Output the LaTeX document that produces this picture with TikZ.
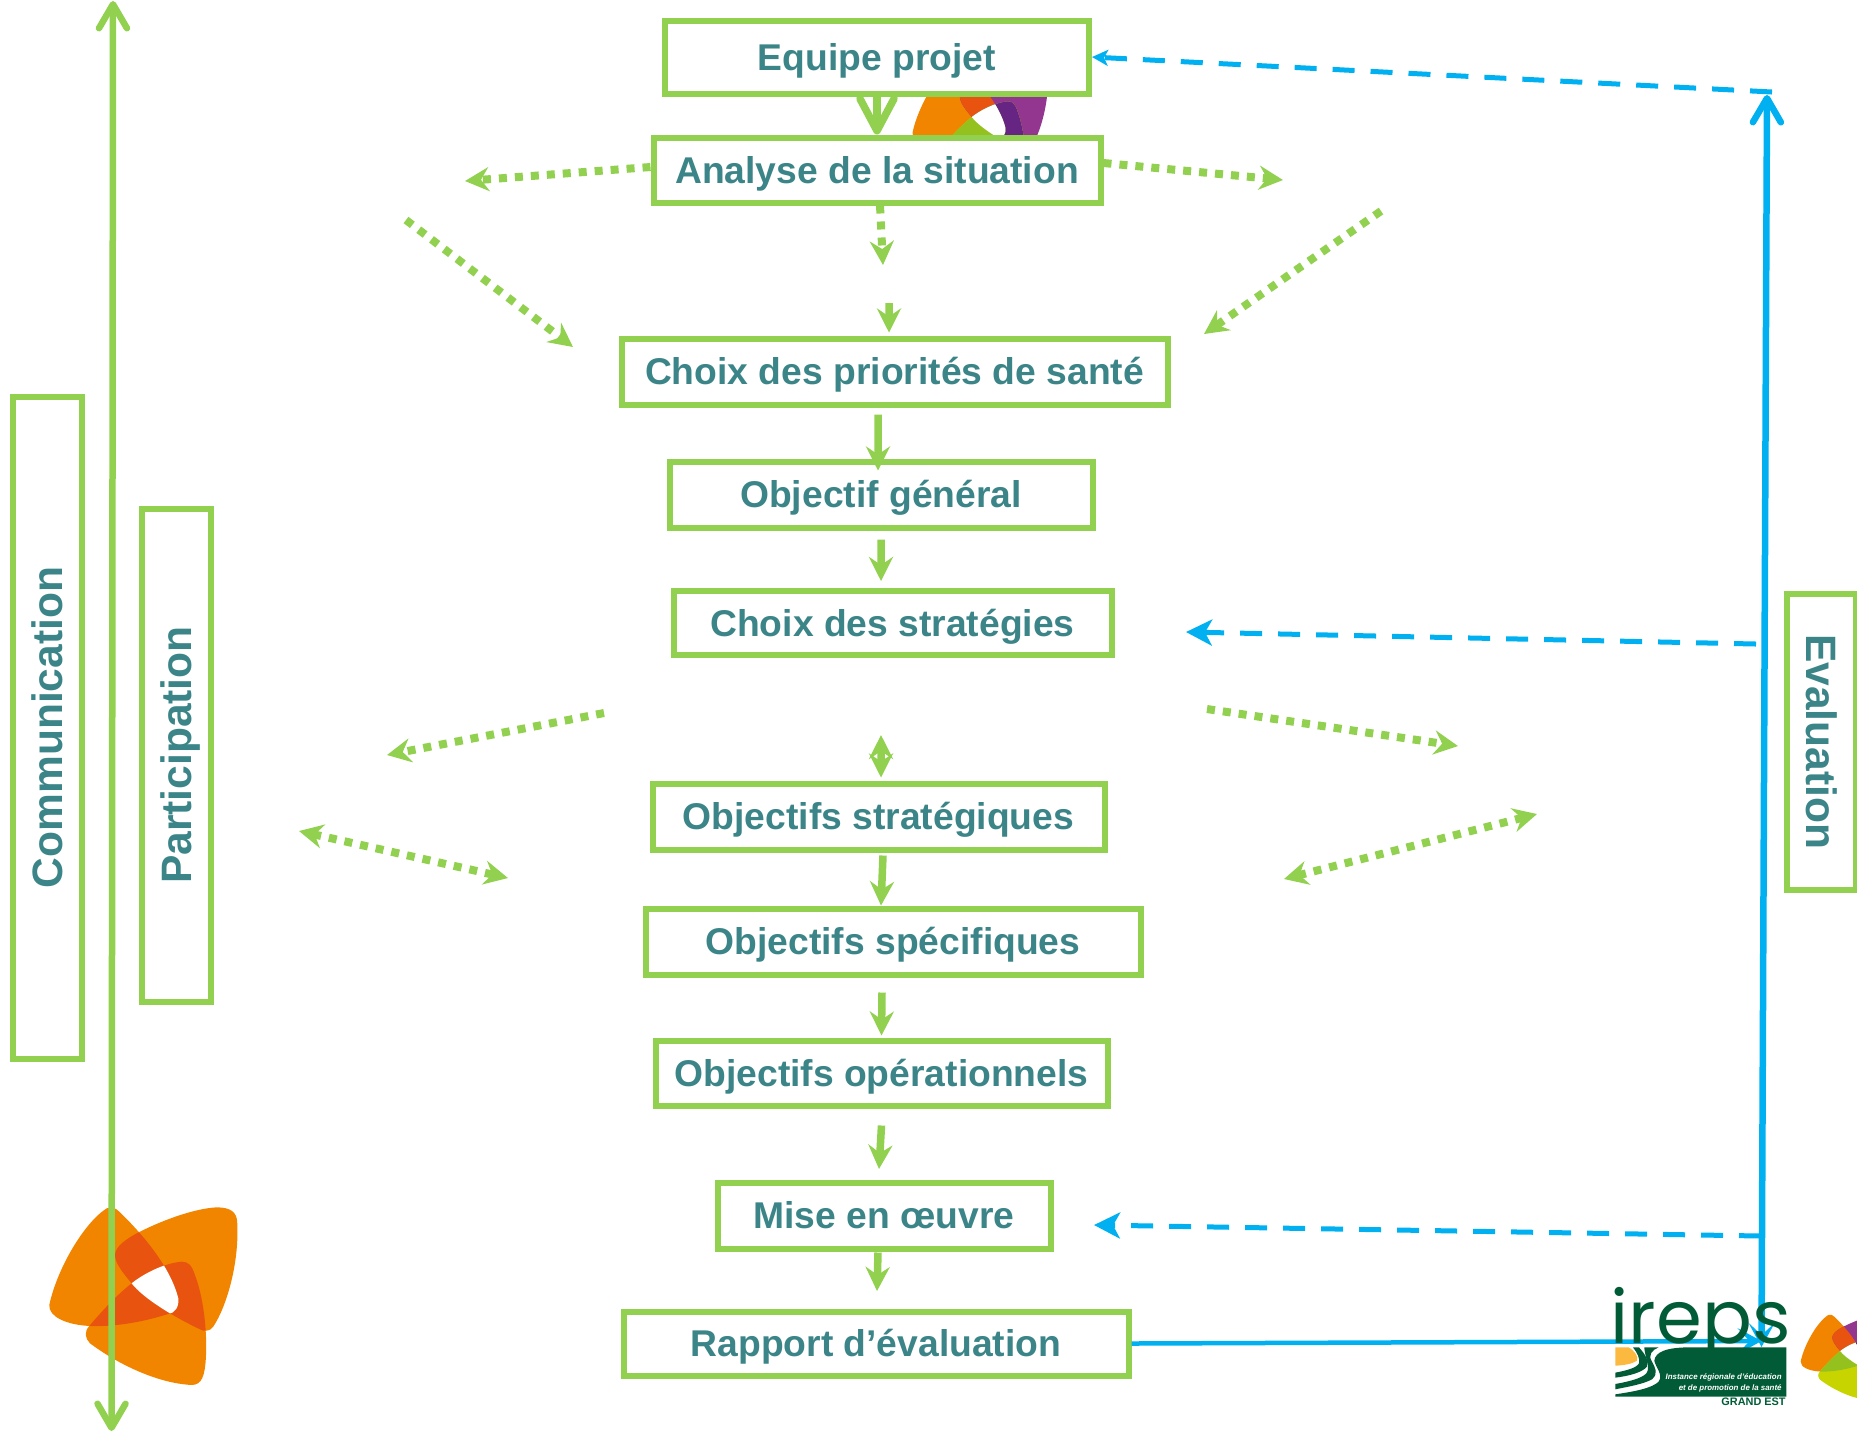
\documentclass[tikz,border=0pt]{standalone}
\usepackage{fontspec}
\setmainfont{Liberation Sans}
\newfontfamily\irepsfont{Poppins}
\usetikzlibrary{arrows.meta}
\definecolor{leaf}{HTML}{92D050}
\definecolor{teal2}{HTML}{3B8588}
\definecolor{sky}{HTML}{00B0F0}
\definecolor{ornge}{HTML}{F28500}
\definecolor{rust}{HTML}{E8540F}
\definecolor{plum}{HTML}{93368F}
\definecolor{plumdk}{HTML}{662483}
\definecolor{moss}{HTML}{95C11F}
\definecolor{lime2}{HTML}{C8D400}
\definecolor{irepsgreen}{HTML}{005B36}
\definecolor{irepsyellow}{HTML}{FBB93F}
\newcommand{\petalA}{(320,175) .. controls (335,170) and (345,172) .. (358,185) .. controls (420,245) and (510,345) .. (535,445) .. controls (538,470) and (525,490) .. (505,492) .. controls (400,525) and (320,530) .. (270,528) .. controls (200,525) and (145,500) .. (148,465) .. controls (170,360) and (250,220) .. (320,175) -- cycle}
\newcommand{\petalB}{(650,172) .. controls (690,172) and (712,185) .. (712,220) .. controls (718,340) and (680,470) .. (640,530) .. controls (630,545) and (610,545) .. (600,538) .. controls (520,500) and (430,445) .. (395,400) .. controls (370,370) and (345,340) .. (345,315) .. controls (345,290) and (380,265) .. (420,245) .. controls (500,205) and (590,175) .. (650,172) -- cycle}
\newcommand{\petalC}{(575,705) .. controls (470,700) and (350,640) .. (270,580) .. controls (255,565) and (252,545) .. (268,528) .. controls (300,490) and (350,435) .. (395,400) .. controls (430,372) and (490,340) .. (545,335) .. controls (565,335) and (575,345) .. (585,375) .. controls (610,440) and (622,540) .. (618,620) .. controls (615,680) and (605,705) .. (575,705) -- cycle}
% #1 place and size, #2-#4 petals, #5 A+B, #6 B+C, #7 A+C
\newcommand{\petals}[7]{
\begin{scope}[#1]
\fill[#2] \petalA;
\fill[#3] \petalB;
\fill[#4] \petalC;
\begin{scope} \clip \petalA; \fill[#5] \petalB; \end{scope}
\begin{scope} \clip \petalB; \fill[#6] \petalC; \end{scope}
\begin{scope} \clip \petalA; \fill[#7] \petalC; \end{scope}
\begin{scope} \clip \petalA; \clip \petalB; \fill[white] \petalC; \end{scope}
\end{scope}
}

\begin{document}
\begin{tikzpicture}[x=0.1mm, y=-0.1mm, font=\fontsize{10.6}{12}\selectfont\bfseries]
\tikzset{etape/.style={draw=leaf, line width=.6mm, fill=white, text=teal2, inner sep=0pt, align=center, text depth=0pt, text height=7.6pt}}
\tikzset{axe/.style={etape, rotate=90, minimum height=6.9mm, font=\fontsize{12.1}{14}\selectfont\bfseries, text height=8.6pt}}
\tikzset{pointe/.tip={Stealth[length=2.4mm,width=2.4mm,inset=.8mm]}}
\tikzset{barbe/.tip={Straight Barb[length=2.4mm,width=2.8mm,round]}}
\tikzset{fine/.tip={Stealth[length=2.4mm,width=2.6mm,inset=1.2mm]}}
\tikzset{fleche/.style={draw=leaf, line width=.75mm, -pointe}}
\tikzset{longue/.style={line width=.65mm}}
\tikzset{pointille/.style={draw=leaf, line width=.8mm, dash pattern=on .8mm off .8mm, -pointe}}
\tikzset{tirets/.style={draw=sky, line width=.5mm, dash pattern=on 2.2mm off 1.6mm, -{Stealth[length=2.6mm,width=2.6mm,inset=.7mm]}}}
\clip (0,0) rectangle (1857,1432);
% logos behind the boxes
\petals{shift={(877,21)}, x=0.024mm, y=-0.024mm}{ornge}{plum}{lime2}{rust}{plumdk}{moss}
\petals{shift={(0,1150)}, x=0.03333mm, y=-0.03333mm}{ornge}{ornge}{ornge}{rust}{rust}{rust}
\petals{shift={(1777,1287)}, x=0.016mm, y=-0.016mm}{ornge}{plum}{lime2}{rust}{plumdk}{moss}
% boxes
\node[etape, minimum width=42.4mm, minimum height=7.3mm] (equipe) at (877,57) {Equipe projet};
\node[etape, minimum width=44.7mm, minimum height=6.5mm] (analyse) at (877,170) {Analyse de la situation};
\node[etape, minimum width=54.6mm, minimum height=6.6mm] (priorites) at (894.5,371.5) {Choix des priorités de santé};
\node[etape, minimum width=42.3mm, minimum height=6.6mm] (general) at (881,494.5) {Objectif général};
\node[etape, minimum width=43.8mm, minimum height=6.4mm] (strategies) at (892.5,623) {Choix des stratégies};
\node[etape, minimum width=45.2mm, minimum height=6.6mm] (objstrat) at (878.5,816.5) {Objectifs stratégiques};
\node[etape, minimum width=49.5mm, minimum height=6.6mm] (specifiques) at (893,941.5) {Objectifs spécifiques};
\node[etape, minimum width=45.2mm, minimum height=6.5mm] (operation) at (881.5,1073) {Objectifs opérationnels};
\node[etape, minimum width=33.3mm, minimum height=6.6mm] (mise) at (884,1215.5) {Mise en œuvre};
\node[etape, minimum width=50.5mm, minimum height=6.4mm] (rapport) at (876,1343.5) {Rapport d’évaluation};
\node[axe, minimum width=66.2mm] (communication) at (47.5,727.5) {Communication};
\node[axe, minimum width=49.3mm] (participation) at (176.5,755) {Participation};
\node[axe, rotate=180, minimum width=29.6mm] (evaluation) at (1821.5,741.5) {Evaluation};
% free ends
\coordinate (haut) at (113,1);
\coordinate (bas) at (111.5,1431);
\coordinate (coin) at (1767,95);
\coordinate (pied) at (1761.5,1347);
\coordinate (angle) at (1772,92);
\coordinate (retourstrat) at (1756,644);
\coordinate (versstrat) at (1186,632);
\coordinate (retourmise) at (1761,1236);
\coordinate (versmise) at (1094,1225);
\coordinate (jonction) at (1761.5,1341);
\coordinate (gauchea) at (465,181);
\coordinate (droitea) at (1283,180);
\coordinate (sousa) at (883,265);
\coordinate (diaga) at (406,220);
\coordinate (diagb) at (1381,211);
\coordinate (verspa) at (573,347);
\coordinate (verspb) at (1204,334);
\coordinate (entree) at (889,303);
\coordinate (sgauche) at (604,713);
\coordinate (sgauchefin) at (387,755);
\coordinate (sdroite) at (1207,709);
\coordinate (sdroitefin) at (1458,746);
\coordinate (dga) at (299,831);
\coordinate (dgb) at (508,878);
\coordinate (dda) at (1284,879);
\coordinate (ddb) at (1537,814);
\coordinate (petita) at (881,735);
% solid arrows
\draw[leaf, line width=.75mm, -{Straight Barb[length=3.2mm,width=3.4mm,round]}] (equipe.south) -- (analyse.north);
\draw[fleche] (entree) -- ([xshift=-.55mm,yshift=.3mm]priorites.north);
\draw[fleche] ([xshift=-1.65mm,yshift=-.7mm]priorites.south) -- ([xshift=-.3mm,yshift=-1.2mm]general.north);
\draw[fleche] ([yshift=-.9mm]general.south) -- ([xshift=-1.15mm,yshift=.7mm]strategies.north);
\draw[fleche] ([xshift=.45mm,yshift=-.3mm]objstrat.south) -- ([xshift=-1.2mm]specifiques.north);
\draw[fleche] ([xshift=-1.1mm,yshift=-1.5mm]specifiques.south) -- ([yshift=.2mm]operation.north);
\draw[fleche] ([yshift=-1.7mm]operation.south) -- ([xshift=-.5mm,yshift=1.05mm]mise.north);
\draw[fleche] ([xshift=-.6mm,yshift=-.1mm]mise.south) -- ([xshift=.1mm,yshift=1.75mm]rapport.north);
% dotted arrows
\draw[pointille] ([yshift=.3mm]analyse.west) -- (gauchea);
\draw[pointille] ([yshift=.7mm]analyse.east) -- (droitea);
\draw[pointille] ([xshift=.3mm]analyse.south) -- (sousa);
\draw[pointille] (diaga) -- (verspa);
\draw[pointille] (diagb) -- (verspb);
\draw[pointille] (sgauche) -- (sgauchefin);
\draw[pointille] (sdroite) -- (sdroitefin);
\draw[pointille, pointe-pointe] (dga) -- (dgb);
\draw[pointille, pointe-pointe] (dda) -- (ddb);
\draw[fleche, pointe-pointe] (petita) -- ([xshift=.25mm,yshift=.3mm]objstrat.north);
% long lines
\draw[longue, leaf, barbe-barbe] (haut) -- (bas);
\draw[longue, sky, barbe-fine] (coin) -- (pied);
\draw[sky, line width=.45mm, -fine] (rapport.east) -- (jonction);
\draw[tirets, -{Stealth[length=1.6mm,width=1.6mm,inset=.4mm]}] (angle) -- (equipe.east);
\draw[tirets] (retourstrat) -- (versstrat);
\draw[tirets] (retourmise) -- (versmise);
% ireps logo
\begin{scope}[shift={(1557,1240)}, x=0.03333mm, y=-0.03333mm]
\fill[irepsyellow] (175,322) -- (215,322) .. controls (235,335) and (245,350) .. (240,362) .. controls (225,372) and (200,376) .. (175,377) -- cycle;
\fill[irepsgreen] (228,322) -- (246,322) .. controls (262,340) and (278,362) .. (270,380) .. controls (255,398) and (215,408) .. (175,413) -- (175,398) .. controls (205,392) and (238,385) .. (246,370) .. controls (250,355) and (240,338) .. (228,322) -- cycle;
\fill[irepsgreen] (262,322) -- (305,322) .. controls (285,330) and (272,345) .. (285,365) .. controls (295,385) and (305,400) .. (285,418) .. controls (260,432) and (215,440) .. (175,448) -- (175,432) .. controls (215,425) and (255,415) .. (268,400) .. controls (282,385) and (262,345) .. (262,322) -- cycle;
\fill[irepsgreen] (688,322) -- (688,470) -- (175,470) -- (175,463) .. controls (230,455) and (285,445) .. (305,425) .. controls (320,405) and (295,380) .. (292,362) .. controls (295,335) and (330,322) .. (400,322) -- cycle;
\node[text=irepsgreen, font=\irepsfont\fontsize{21}{21}\selectfont, anchor=base, inner sep=0pt] (ireps) at (431,310) {ireps};
\node[text=white, font=\fontsize{2.25}{3}\selectfont\bfseries\itshape, anchor=east, inner sep=0pt] (instance) at (676,412) {Instance régionale d’éducation};
\node[text=white, font=\fontsize{2.25}{3}\selectfont\bfseries\itshape, anchor=east, inner sep=0pt] (promotion) at (676,445) {et de promotion de la santé};
\node[text=irepsgreen, font=\fontsize{3.1}{3}\selectfont\bfseries, anchor=east, inner sep=0pt] (grandest) at (688,484) {GRAND EST};
\end{scope}
\end{tikzpicture}
\end{document}
